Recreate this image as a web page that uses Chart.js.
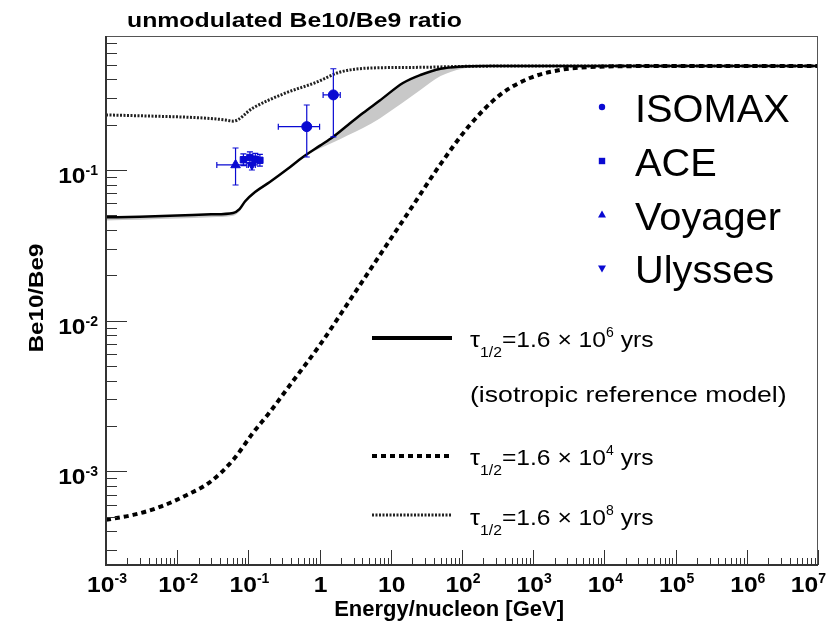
<!DOCTYPE html>
<html><head><meta charset="utf-8">
<script src="https://cdn.jsdelivr.net/npm/chart.js@4.4.1/dist/chart.umd.min.js"></script>
<style>html,body{margin:0;padding:0;background:#fff}</style>
</head><body>
<canvas id="c" width="828" height="625"></canvas>
<script>
// ---------------- data ----------------
const xTickExponents = [-3,-2,-1,0,1,2,3,4,5,6,7];
const yTickExponents = [-3,-2,-1];

// tau = 1.6e6 yrs (solid, isotropic reference model) and grey band lower edge
const solidE   = [1e-3,3e-3,0.01,0.03,0.061,0.075,0.09,0.124,0.2,0.35,0.585,1.0,1.54,2.5,4.07,7,14.8,26,50,100,200,500,1e3,1e4,1e5,1e6,1e7];
const solidV   = [0.0485,0.049,0.0498,0.0508,0.0519,0.055,0.062,0.0714,0.0832,0.101,0.122,0.1445,0.1656,0.199,0.239,0.289,0.378,0.427,0.47,0.486,0.49,0.49,0.49,0.49,0.49,0.49,0.49];
const bandLowV = [0.0463,0.0468,0.0476,0.0486,0.0497,0.053,0.06,0.070,0.0825,0.1,0.121,0.139,0.152,0.17,0.19,0.22,0.28,0.34,0.42,0.47,0.487,0.49,0.49,0.49,0.49,0.49,0.49];

// tau = 1.6e4 yrs (coarse dashed)
const dashedE = [1e-3,2.4e-3,5.7e-3,0.0137,0.029,0.061,0.116,0.201,0.384,1.01,2.67,7.05,18.6,49,129,342,900,2380,8670,1e5,1e6,1e7];
const dashedV = [4.77e-4,5.14e-4,5.8e-4,6.97e-4,8.5e-4,1.19e-3,1.8e-3,2.48e-3,3.74e-3,6.9e-3,0.0137,0.0273,0.0543,0.108,0.199,0.315,0.408,0.461,0.485,0.49,0.49,0.49];

// tau = 1.6e8 yrs (fine dotted)
const dottedE = [1e-3,4.1e-3,0.021,0.047,0.061,0.116,0.305,0.92,1.95,5.1,25.6,100,1e3,1e4,1e7];
const dottedV = [0.232,0.228,0.222,0.215,0.211,0.258,0.319,0.384,0.447,0.475,0.48,0.487,0.49,0.49,0.49];

// measurements
const isomaxE = [0.66, 1.56];
const isomaxR = [0.194, 0.315];
const isomaxElo = [0.263, 1.12], isomaxEhi = [1.0, 1.95];
const isomaxRlo = [0.122, 0.166], isomaxRhi = [0.27, 0.47];

const aceE = [0.085, 0.105, 0.125, 0.145];
const aceR = [0.117, 0.121, 0.118, 0.116];
const aceElo = [0.080, 0.099, 0.118, 0.137], aceEhi = [0.090, 0.111, 0.132, 0.153];
const aceRlo = [0.107, 0.111, 0.108, 0.106], aceRhi = [0.128, 0.132, 0.129, 0.127];

const voyagerE = [0.066];
const voyagerR = [0.108];
const voyagerElo = [0.036], voyagerEhi = [0.095];
const voyagerRlo = [0.0795], voyagerRhi = [0.14];

const ulyssesE = [0.112];
const ulyssesR = [0.108];
const ulyssesElo = [0.100], ulyssesEhi = [0.125];
const ulyssesRlo = [0.100], ulyssesRhi = [0.117];

const expLabels = ['ISOMAX','ACE','Voyager','Ulysses'];

// ---------------- helpers ----------------
const FONT = '"Liberation Sans", Arial, Helvetica, sans-serif';
const BLUE = '#0a0ad2';
function setFont(ctx,p){ ctx.font = (p.bold?'bold ':'') + p.size + 'px ' + FONT; }
function richWidth(ctx, parts){
  let total = 0;
  parts.forEach(p => { setFont(ctx,p); total += ctx.measureText(p.t).width*(p.sx||1); });
  return total;
}
function drawRich(ctx, parts, x, y, align, maxRight){
  const ws = parts.map(p => { setFont(ctx,p); return ctx.measureText(p.t).width*(p.sx||1); });
  const total = ws.reduce((s,w)=>s+w,0);
  let cx = align==='center' ? x-total/2 : (align==='right' ? x-total : x);
  if (maxRight !== undefined && cx + total > maxRight) cx = maxRight - total;
  parts.forEach((p,i) => {
    ctx.save(); setFont(ctx,p);
    ctx.translate(cx, y + (p.dy||0)); ctx.scale(p.sx||1, 1);
    ctx.textAlign='left'; ctx.textBaseline='alphabetic'; ctx.fillStyle = p.color || '#000';
    ctx.fillText(p.t, 0, 0); ctx.restore(); cx += ws[i];
  });
}
function pts(E,V){ return E.map((e,i)=>({x:e,y:V[i]})); }
function marker(ctx, style, x, y, r){
  ctx.beginPath();
  if(style==='circle'){ ctx.arc(x,y,r,0,Math.PI*2); }
  else if(style==='rect'){ ctx.rect(x-r,y-r,2*r,2*r); }
  else if(style==='up'){ ctx.moveTo(x,y-r*1.15); ctx.lineTo(x+r,y+r*0.6); ctx.lineTo(x-r,y+r*0.6); ctx.closePath(); }
  else { ctx.moveTo(x,y+r*1.15); ctx.lineTo(x+r,y-r*0.6); ctx.lineTo(x-r,y-r*0.6); ctx.closePath(); }
  ctx.fillStyle = BLUE; ctx.fill();
}

const errorSets = [
  {E:isomaxE,R:isomaxR,elo:isomaxElo,ehi:isomaxEhi,rlo:isomaxRlo,rhi:isomaxRhi},
  {E:aceE,R:aceR,elo:aceElo,ehi:aceEhi,rlo:aceRlo,rhi:aceRhi},
  {E:voyagerE,R:voyagerR,elo:voyagerElo,ehi:voyagerEhi,rlo:voyagerRlo,rhi:voyagerRhi},
  {E:ulyssesE,R:ulyssesR,elo:ulyssesElo,ehi:ulyssesEhi,rlo:ulyssesRlo,rhi:ulyssesRhi}
];

const decor = {
  id:'decor',
  beforeDraw(chart){
    const ctx = chart.ctx; ctx.save(); ctx.fillStyle='#fff'; ctx.fillRect(0,0,chart.width,chart.height); ctx.restore();
  },
  afterDatasetsDraw(chart){
    const ctx = chart.ctx, xs = chart.scales.x, ys = chart.scales.y;
    ctx.save();
    ctx.strokeStyle = BLUE; ctx.lineWidth = 1.2;
    const cap = 3;
    errorSets.forEach(s => {
      s.E.forEach((e,i) => {
        const px = xs.getPixelForValue(e), py = ys.getPixelForValue(s.R[i]);
        const x1 = xs.getPixelForValue(s.elo[i]), x2 = xs.getPixelForValue(s.ehi[i]);
        const y1 = ys.getPixelForValue(s.rhi[i]), y2 = ys.getPixelForValue(s.rlo[i]);
        ctx.beginPath();
        ctx.moveTo(x1,py); ctx.lineTo(x2,py);
        ctx.moveTo(px,y1); ctx.lineTo(px,y2);
        ctx.moveTo(x1,py-cap); ctx.lineTo(x1,py+cap);
        ctx.moveTo(x2,py-cap); ctx.lineTo(x2,py+cap);
        ctx.moveTo(px-cap,y1); ctx.lineTo(px+cap,y1);
        ctx.moveTo(px-cap,y2); ctx.lineTo(px+cap,y2);
        ctx.stroke();
      });
    });
    ctx.restore();
  },
  afterDraw(chart){
    const ctx = chart.ctx, xs = chart.scales.x, ys = chart.scales.y, a = chart.chartArea;
    ctx.save();
    // frame
    ctx.strokeStyle='#555'; ctx.lineWidth=1;
    ctx.strokeRect(a.left+0.5, a.top+0.5, a.right-a.left-1, a.bottom-a.top);
    ctx.strokeStyle='#333'; ctx.lineWidth=2;
    ctx.beginPath(); ctx.moveTo(a.left, a.top); ctx.lineTo(a.left, a.bottom); ctx.lineTo(a.right, a.bottom); ctx.stroke();
    // ticks
    ctx.lineWidth=1; ctx.strokeStyle='#333';
    ctx.beginPath();
    for(let n=-3;n<=7;n++){ for(let k=1;k<=9;k++){ const v=k*Math.pow(10,n); if(v<xs.min*0.999||v>xs.max*1.001) continue;
      const px=Math.round(xs.getPixelForValue(v))+0.5; const L = k===1?15:7;
      ctx.moveTo(px,a.bottom); ctx.lineTo(px,a.bottom-L); } }
    for(let n=-4;n<=0;n++){ for(let k=1;k<=9;k++){ const v=k*Math.pow(10,n); if(v<ys.min||v>ys.max) continue;
      const py=Math.round(ys.getPixelForValue(v))+0.5; const L = k===1?21:11;
      ctx.moveTo(a.left,py); ctx.lineTo(a.left+L,py); } }
    ctx.stroke();
    // x tick labels
    xTickExponents.forEach(n => {
      const px = xs.getPixelForValue(Math.pow(10,n));
      const parts = n===0 ? [{t:'1',size:22,bold:true,sx:1.12}] : n===1 ? [{t:'10',size:22,bold:true,sx:1.12}]
        : [{t:'10',size:22,bold:true,sx:1.12},{t:String(n),size:14,bold:true,dy:-9}];
      drawRich(ctx, parts, px+1, 592, 'center', 826);
    });
    // y tick labels
    yTickExponents.forEach(n => {
      const py = ys.getPixelForValue(Math.pow(10,n));
      drawRich(ctx, [{t:'10',size:22,bold:true,sx:1.12},{t:String(n),size:14,bold:true,dy:-8}], 98, py+13, 'right');
    });
    // title
    drawRich(ctx, [{t:'unmodulated Be10/Be9 ratio',size:20,bold:true,sx:1.24}], 127, 27, 'left');
    // axis titles
    drawRich(ctx, [{t:'Energy/nucleon [GeV]',size:22,bold:true,sx:1.0}], 564, 616, 'right');
    ctx.save(); ctx.translate(43, 298); ctx.rotate(-Math.PI/2);
    drawRich(ctx, [{t:'Be10/Be9',size:21,bold:true,sx:1.15}], 0, 0, 'center');
    ctx.restore();
    // experiment legend
    const styles = ['circle','rect','up','down'], sizes=[3.2,3.2,4,4];
    const base = [122,176,230,283];
    expLabels.forEach((lab,i) => {
      marker(ctx, styles[i], 602, base[i]-15, sizes[i]);
      drawRich(ctx, [{t:lab,size:39,sx:1.02}], 635, base[i], 'left');
    });
    // model legend
    ctx.lineCap='butt';
    ctx.strokeStyle='#000'; ctx.lineWidth=4; ctx.setLineDash([]);
    ctx.beginPath(); ctx.moveTo(372,338); ctx.lineTo(452,338); ctx.stroke();
    ctx.lineWidth=4; ctx.setLineDash([5,4]);
    ctx.beginPath(); ctx.moveTo(372,456); ctx.lineTo(452,456); ctx.stroke();
    ctx.strokeStyle='#222'; ctx.lineWidth=3; ctx.setLineDash([2,1.5]);
    ctx.beginPath(); ctx.moveTo(372,515); ctx.lineTo(452,515); ctx.stroke();
    ctx.setLineDash([]);
    const tauRow = (exp, y) => drawRich(ctx, [
      {t:'\u03C4',size:22,sx:1.15},{t:'1/2',size:15,dy:10,sx:1.05},
      {t:'=1.6 \u00D7 10',size:22,sx:1.12},{t:exp,size:14,dy:-10},{t:' yrs',size:22,sx:1.12}], 470, y, 'left');
    tauRow('6', 347);
    drawRich(ctx, [{t:'(isotropic reference model)',size:22,sx:1.21}], 470, 402, 'left');
    tauRow('4', 465);
    tauRow('8', 525);
    ctx.restore();
  }
};

new Chart(document.getElementById('c'), {
  type:'scatter',
  data:{ datasets:[
    {label:'ISOMAX', data:pts(isomaxE,isomaxR), pointStyle:'circle', pointRadius:5, backgroundColor:BLUE, borderColor:BLUE, order:0},
    {label:'ACE', data:pts(aceE,aceR), pointStyle:'rect', pointRadius:4.5, backgroundColor:BLUE, borderColor:BLUE, order:0},
    {label:'Voyager', data:pts(voyagerE,voyagerR), pointStyle:'triangle', pointRadius:5.5, backgroundColor:BLUE, borderColor:BLUE, order:0},
    {label:'Ulysses', data:pts(ulyssesE,ulyssesR), pointStyle:'triangle', rotation:180, pointRadius:5, backgroundColor:BLUE, borderColor:BLUE, order:0},
    {label:'tau 1.6e6', data:pts(solidE,solidV), showLine:true, borderColor:'#000', borderWidth:2.5, pointRadius:0, cubicInterpolationMode:'monotone', order:1},
    {label:'tau 1.6e4', data:pts(dashedE,dashedV), showLine:true, borderColor:'#000', borderWidth:4, borderDash:[5,4], borderCapStyle:'butt', pointRadius:0, cubicInterpolationMode:'monotone', order:1},
    {label:'tau 1.6e8', data:pts(dottedE,dottedV), showLine:true, borderColor:'#222', borderWidth:3, borderDash:[2,1.5], borderCapStyle:'butt', pointRadius:0, cubicInterpolationMode:'monotone', order:1},
    {label:'band', data:pts(solidE,bandLowV), showLine:true, borderWidth:0, borderColor:'rgba(0,0,0,0)', backgroundColor:'#c8c8c8', fill:{target:4}, pointRadius:0, cubicInterpolationMode:'monotone', order:2}
  ]},
  options:{
    responsive:false, animation:false, devicePixelRatio:1,
    layout:{padding:{left:106, top:36, right:10, bottom:60}},
    scales:{
      x:{type:'logarithmic', min:1e-3, max:1e7, display:false},
      y:{type:'logarithmic', min:2.39e-4, max:0.775, display:false}
    },
    plugins:{legend:{display:false}, tooltip:{enabled:false}, title:{display:false}}
  },
  plugins:[decor]
});
</script>
</body></html>
